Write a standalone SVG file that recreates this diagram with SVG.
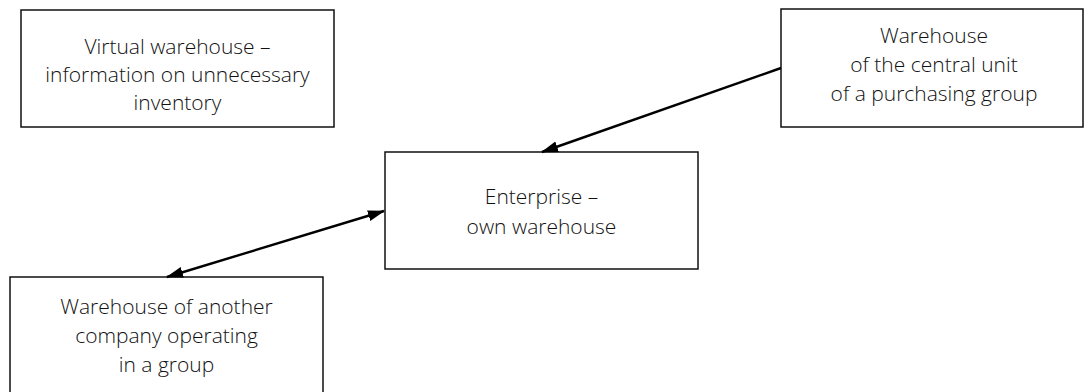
<svg xmlns="http://www.w3.org/2000/svg" width="1084" height="392" viewBox="0 0 1084 392">
<defs>
<style>
.box{fill:#fff;stroke:#111;stroke-width:1.5}
.t{font-family:"Open Sans","Liberation Sans",sans-serif;font-weight:300;font-size:21px;fill:#111;text-anchor:middle}
.c{stroke:#000;stroke-width:2.4;fill:none}
</style>
<marker id="ah" viewBox="0 0 17 11" refX="16" refY="5.5" markerWidth="17" markerHeight="11" markerUnits="userSpaceOnUse" orient="auto-start-reverse">
<path d="M0,0 L17,5.5 L0,11 Z" fill="#000"/>
</marker>
</defs>
<rect width="1084" height="392" fill="#fff"/>
<g id="virtual">
<rect class="box" x="21" y="10" width="313" height="117"/>
<text class="t" x="177.5" y="54">Virtual warehouse –</text>
<text class="t" x="177.5" y="82">information on unnecessary</text>
<text class="t" x="177.5" y="110">inventory</text>
</g>
<g id="central">
<rect class="box" x="781" y="9" width="302" height="118"/>
<text class="t" x="934" y="43">Warehouse</text>
<text class="t" x="934" y="72">of the central unit</text>
<text class="t" x="934" y="101">of a purchasing group</text>
</g>
<g id="enterprise">
<rect class="box" x="385" y="152" width="313" height="117"/>
<text class="t" x="541.5" y="204">Enterprise –</text>
<text class="t" x="541.5" y="234">own warehouse</text>
</g>
<g id="another">
<rect class="box" x="10" y="277" width="313" height="120"/>
<text class="t" x="166.5" y="314">Warehouse of another</text>
<text class="t" x="166.5" y="343">company operating</text>
<text class="t" x="166.5" y="372">in a group</text>
</g>
<g id="connectors">
<line class="c" x1="781" y1="68" x2="542" y2="152" marker-end="url(#ah)"/>
<line class="c" x1="167" y1="277" x2="384" y2="211" marker-start="url(#ah)" marker-end="url(#ah)"/>
</g>
</svg>
